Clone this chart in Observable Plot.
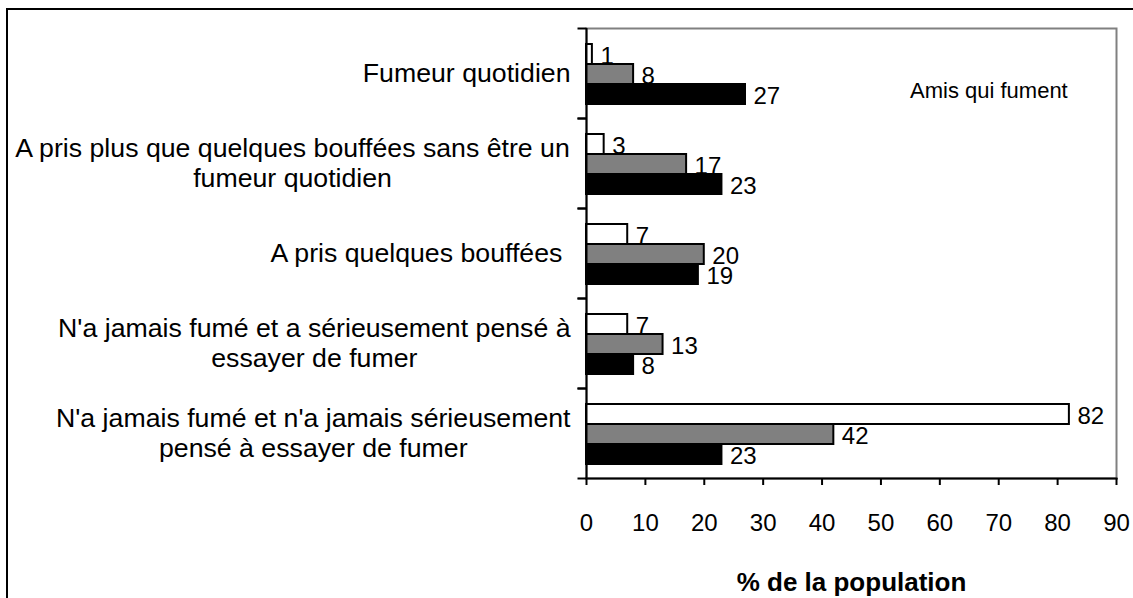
<!DOCTYPE html>
<html>
<head>
<meta charset="utf-8">
<script src="https://cdn.jsdelivr.net/npm/d3@7"></script>
<script src="https://cdn.jsdelivr.net/npm/@observablehq/plot@0.6"></script>
<style>
  html, body { margin: 0; padding: 0; background: #fff; overflow: hidden; width: 1133px; height: 598px; }
  #wrap { position: relative; width: 1133px; height: 598px; }
  #border { position: absolute; left: 6px; top: 8px; width: 1200px; height: 700px; border: 2px solid #000; box-sizing: border-box; }
  #chart { position: absolute; left: 0; top: 0; }
  #chart svg text { white-space: pre; }
  #legendTitle { position: absolute; left: 910px; top: 78px; font: 22px "Liberation Sans", Arial, sans-serif; color: #000; white-space: nowrap; }
</style>
</head>
<body>
<div id="wrap">
  <div id="border"></div>
  <div id="chart"></div>
  <div id="legendTitle">Amis qui fument</div>
</div>
<script>
const categories = [
  "Fumeur quotidien",
  "A pris plus que quelques bouffées sans être un\nfumeur quotidien",
  "A pris quelques bouffées ",
  "N'a jamais fumé et a sérieusement pensé à\nessayer de fumer",
  "N'a jamais fumé et n'a jamais sérieusement\npensé à essayer de fumer"
];
const seriesNames = ["blanc", "gris", "noir"];
const seriesColors = ["#ffffff", "#808080", "#000000"];
const valuesBlanc = [1, 3, 7, 7, 82];
const valuesGris = [8, 17, 20, 13, 42];
const valuesNoir = [27, 23, 19, 8, 23];
const xTicks = [0, 10, 20, 30, 40, 50, 60, 70, 80, 90];
const xTitle = "% de la population";

const seriesValues = [valuesBlanc, valuesGris, valuesNoir];
const data = [];
categories.forEach((c, i) => {
  seriesNames.forEach((s, j) => data.push({cat: c, series: s, value: seriesValues[j][i]}));
});

const FONT = '"Liberation Sans", Arial, sans-serif';
const catFontSize = 26.7;
const ctx = document.createElement("canvas").getContext("2d");
ctx.font = `${catFontSize}px "Liberation Sans"`;
const blockWidth = (label) => Math.max(...label.split("\n").map(l => ctx.measureText(l).width));

const tickSymbol = { draw(c) { c.moveTo(-9, 0); c.lineTo(0, 0); } };

const labelMarks = categories.map(c => Plot.text([c], {
  fy: d => d, text: d => d, frameAnchor: "left", textAnchor: "middle", lineAnchor: "middle",
  dx: -(16 + blockWidth(c) / 2), dy: -1, fontSize: catFontSize, lineHeight: 1.13, fill: "#000"
}));

const chart = Plot.plot({
  width: 1133,
  height: 598,
  marginLeft: 586,
  marginRight: 17,
  marginTop: 27,
  marginBottom: 119,
  style: { fontFamily: FONT, background: "transparent", color: "#000", overflow: "visible" },
  x: { domain: [0, 90], axis: null },
  y: { domain: seriesNames, paddingInner: 0, paddingOuter: 0.75, align: 0.53, axis: null },
  fy: { domain: categories, padding: 0, axis: null },
  color: { domain: seriesNames, range: seriesColors },
  marks: [
    Plot.frame({ facet: "super", stroke: "#808080", strokeWidth: 2 }),
    Plot.barX(data, { fy: "cat", y: "series", x: "value", fill: "series", stroke: "#000", strokeWidth: 2 }),
    Plot.text(data, { fy: "cat", y: "series", x: "value", text: d => String(d.value), textAnchor: "start", dx: 8, dy: 2, fontSize: 24, fill: "#000" }),
    Plot.ruleX([0], { stroke: "#000", strokeWidth: 2 }),
    Plot.dot([0], { frameAnchor: "top-left", symbol: tickSymbol, stroke: "#000", strokeWidth: 2, fill: "none" }),
    Plot.dot([0], { frameAnchor: "bottom-left", symbol: tickSymbol, stroke: "#000", strokeWidth: 2, fill: "none" }),
    Plot.frame({ facet: "super", anchor: "bottom", stroke: "#000", strokeWidth: 2 }),
    Plot.axisX({ ticks: xTicks, tickSize: 7, tickPadding: 28, fontSize: 24, strokeWidth: 2, label: null, tickFormat: d => String(d) }),
    Plot.axisX({ ticks: [], tickSize: 0, label: xTitle, labelAnchor: "center", labelArrow: "none", labelOffset: 112, fontSize: 26, fontWeight: "bold" }),
    ...labelMarks
  ]
});
document.getElementById("chart").appendChild(chart);
</script>
</body>
</html>
